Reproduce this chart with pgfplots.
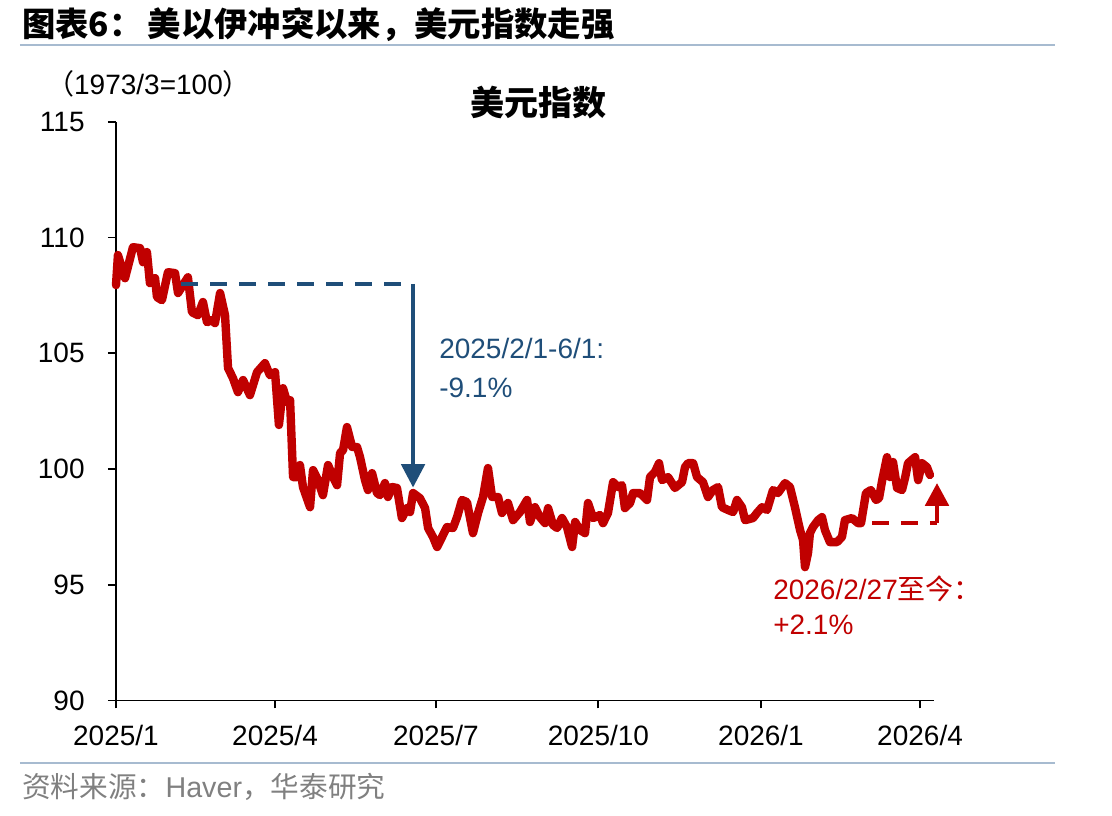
\documentclass[border=0pt]{standalone}
\usepackage{fontspec}
\setmainfont{Liberation Sans}
\newfontfamily\cjk{Noto Sans CJK SC}
\usepackage{pgfplots}
\usepackage{pgfplotstable}
\pgfplotsset{compat=1.18}
\usetikzlibrary{arrows.meta}

\definecolor{dxyred}{HTML}{C00000}
\definecolor{annblue}{HTML}{1F4E79}
\definecolor{rulecol}{HTML}{A7BBD0}
\definecolor{srcgray}{HTML}{808080}

% US dollar index (1973/3=100); day = days since 2025-01-01
\pgfplotstableread{
day value
0.0 107.94
1.1 109.24
5.1 108.24
9.6 109.58
13.6 109.54
15.3 108.93
17.5 109.37
19.2 108.03
22.1 108.24
23.2 107.42
26.0 107.29
29.4 108.50
33.4 108.46
35.1 107.60
37.9 107.94
40.7 108.28
43.0 106.77
46.4 106.64
49.2 107.21
51.5 106.34
54.3 106.43
56.0 106.30
58.9 107.60
61.7 106.64
63.4 104.36
66.2 103.92
69.0 103.32
71.9 103.84
75.8 103.19
79.8 104.18
84.3 104.57
87.1 104.05
90.0 104.18
92.2 101.90
94.5 103.49
96.8 102.89
98.5 102.97
100.2 99.65
102.4 99.65
104.1 100.17
105.8 99.22
109.8 98.35
111.5 99.95
114.3 99.52
117.1 98.87
120.0 100.17
122.8 99.65
125.1 99.30
126.8 100.69
128.5 100.82
130.7 101.81
133.6 100.95
136.4 100.95
138.1 100.51
140.9 99.52
142.6 99.09
144.9 99.82
147.7 98.96
149.4 98.87
152.2 99.39
153.9 98.79
156.2 99.22
159.0 99.18
161.8 97.88
164.7 98.31
166.4 98.14
168.1 98.96
172.0 98.74
174.9 98.31
176.6 97.45
179.4 97.06
181.7 96.63
184.5 97.06
187.3 97.49
190.7 97.45
193.0 97.92
195.8 98.66
198.6 98.57
202.0 97.23
204.9 98.10
207.7 98.79
210.5 100.04
212.8 98.79
216.2 98.79
218.4 98.10
221.8 98.53
224.7 97.79
228.6 98.14
232.6 98.66
234.3 97.71
237.1 98.35
239.9 97.92
242.8 97.66
244.5 98.31
247.3 97.58
249.6 97.45
252.4 97.88
255.2 97.49
258.1 96.63
259.8 97.71
262.6 97.36
265.4 97.23
267.1 98.53
270.0 97.88
273.9 98.01
275.6 97.66
278.4 98.10
281.3 99.43
284.1 99.22
286.3 99.30
288.0 98.31
290.9 98.53
292.6 98.96
296.5 98.96
300.5 98.66
302.2 99.65
305.0 99.87
307.3 100.25
309.0 99.52
312.4 99.65
316.3 99.18
320.3 99.43
322.0 100.08
323.7 100.25
326.6 100.25
328.8 99.65
332.2 99.43
335.0 98.79
337.8 99.09
340.7 99.22
342.9 98.35
346.3 98.23
349.2 98.14
351.4 98.66
354.2 98.35
356.0 97.79
360.5 97.88
362.7 98.10
365.6 98.35
368.4 98.23
371.8 99.09
374.6 98.96
378.6 99.39
381.4 99.22
384.2 98.35
387.1 97.36
388.8 96.93
389.9 95.76
391.6 96.37
392.7 97.23
394.4 97.49
397.3 97.79
399.5 97.92
401.2 97.36
404.0 96.84
408.0 96.84
410.8 97.06
412.5 97.79
416.5 97.88
419.9 97.66
421.6 97.66
424.4 98.96
427.2 99.09
430.1 98.66
431.8 98.74
433.6 99.52
436.3 100.51
438.0 99.65
439.7 100.30
442.0 99.18
444.8 99.09
446.5 99.61
448.2 100.25
452.2 100.51
453.9 99.52
456.1 100.25
458.9 100.08
460.6 99.74
}\dxy

\begin{document}
\begin{tikzpicture}[x=0.75pt,y=0.75pt]
% page frame and the texts around the plot; the axis box starts at (116,115.5)
\begin{scope}[shift={(-116,-115.5)}]
\path[use as bounding box] (0,0) rectangle (1112,816);

\node[anchor=base west, inner sep=0] at (22,779)
  {\fontsize{25}{30}\selectfont\cjk\bfseries 图表6：\hspace{4pt}美以伊冲突以来，美元指数走强};
\draw[rulecol, line width=2.2pt] (20,771) -- (1055,771);
\draw[rulecol, line width=2.2pt] (20,53) -- (1055,53);
\node[anchor=base west, inner sep=0, text=srcgray] at (22,19)
  {\fontsize{21.5}{26}\selectfont{\cjk 资料来源：}Haver{\cjk ，华泰研究}};

\node[anchor=base, inner sep=0] at (148.5,721)
  {\fontsize{21}{25}\selectfont{\cjk （}1973/3=100{\cjk ）}};
\node[inner sep=0] at (538,713)
  {\fontsize{25.5}{30}\selectfont\cjk\bfseries 美元指数};

\node[anchor=base west, inner sep=0, text=annblue] at (439,457)
  {\fontsize{21}{25}\selectfont 2025/2/1-6/1:};
\node[anchor=base west, inner sep=0, text=annblue] at (439,418)
  {\fontsize{21}{25}\selectfont -9.1\%};
\node[anchor=base west, inner sep=0, text=dxyred] at (773,216)
  {\fontsize{21}{25}\selectfont 2026/2/27{\cjk 至今：}};
\node[anchor=base west, inner sep=0, text=dxyred] at (773,181)
  {\fontsize{21}{25}\selectfont +2.1\%};
\end{scope}

\begin{axis}[
  scale only axis, width=613.5pt, height=434.1pt,
  xmin=0, xmax=462.9, ymin=90, ymax=115,
  axis x line*=bottom, axis y line*=left,
  axis line style={-, line width=1.4pt, black},
  xtick={0,90,181,273,365,455},
  xticklabels={2025/1,2025/4,2025/7,2025/10,2026/1,2026/4},
  ytick={90,95,100,105,110,115},
  tick align=outside,
  major tick length=6pt,
  tick style={black, line width=1.4pt},
  ticklabel style={font=\fontsize{21}{25}\selectfont},
  yticklabel style={xshift=-14pt},
  xticklabel style={yshift=-9pt},
  /pgf/number format/assume math mode=true,
  clip=false,
]
\addplot[dxyred, line width=6.3pt, line join=round, line cap=round]
  table[x=day, y=value]{\dxy};

% 2025/2/1 - 6/1 decline
\addplot[annblue, line width=3pt, dash pattern=on 12.75pt off 9pt]
  coordinates {(36.8,108.0) (166.5,108.0)};
\draw[annblue, line width=3pt, -{Triangle[width=17.5pt,length=17.5pt]}]
  (axis cs:168.1,108.0) -- (axis cs:168.1,99.2);

% rebound since 2026/2/27
\addplot[dxyred, line width=3pt, dash pattern=on 12.75pt off 9pt]
  coordinates {(427.8,97.66) (464.6,97.66)};
\draw[dxyred, line width=3pt, -{Triangle[width=17.5pt,length=17pt]}]
  (axis cs:464.6,97.66) -- (axis cs:464.6,99.39);
\end{axis}
\end{tikzpicture}
\end{document}
